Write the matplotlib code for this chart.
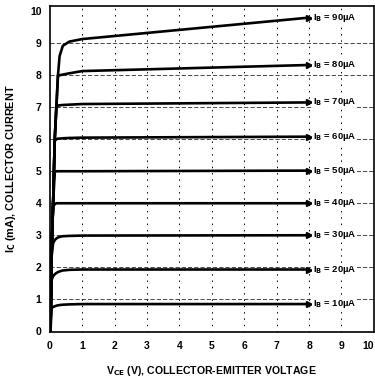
import matplotlib
matplotlib.use('Agg')
import matplotlib.pyplot as plt

plt.rcParams['font.family'] = ['Liberation Sans', 'DejaVu Sans']
plt.rcParams['font.weight'] = 'bold'

# Vce sample points (V) shared by all curves
vce = [0.02, 0.05, 0.1, 0.15, 0.2, 0.25, 0.3, 0.4, 0.6, 1.0, 8.0]

# base current (uA) and collector current (mA) per curve
ib_ua = [10, 20, 30, 40, 50, 60, 70, 80, 90]
ic_ma = [
    [0, 0.72, 0.76, 0.78, 0.80, 0.81, 0.82, 0.83, 0.84, 0.85, 0.85],
    [0, 1.60, 1.72, 1.78, 1.82, 1.85, 1.87, 1.90, 1.92, 1.93, 1.93],
    [0, 2.30, 2.75, 2.85, 2.90, 2.93, 2.95, 2.97, 2.98, 2.99, 3.00],
    [0, 2.40, 3.90, 3.97, 4.00, 4.00, 4.00, 4.00, 4.00, 4.00, 4.00],
    [0, 2.40, 4.00, 4.97, 5.00, 5.00, 5.00, 5.00, 5.00, 5.00, 5.02],
    [0, 2.40, 4.00, 5.95, 6.00, 6.02, 6.02, 6.03, 6.04, 6.05, 6.08],
    [0, 2.40, 4.00, 6.00, 7.00, 7.05, 7.06, 7.07, 7.08, 7.10, 7.15],
    [0, 2.40, 4.00, 6.00, 7.00, 8.00, 8.00, 8.02, 8.06, 8.13, 8.32],
    [0, 2.40, 4.00, 6.00, 7.00, 8.00, 8.60, 8.92, 9.05, 9.13, 9.80],
]

fig = plt.figure(figsize=(3.75, 3.81), dpi=100)
ax = fig.add_axes([0.133, 0.128, 0.864, 0.856])

for b, ic in zip(ib_ua, ic_ma):
    ax.plot(vce, ic, color='black', lw=1.9, solid_capstyle='butt', zorder=3)
    ax.plot(vce[-1], ic[-1], marker='>', ms=4, color='black', zorder=4)
    ax.text(8.12, ic[-1], 'I$_\\mathbf{B}$ = %dµA' % b, fontsize=6.8,
            fontweight='bold', va='center', ha='left', zorder=5,
            bbox=dict(boxstyle='square,pad=0.1', fc='white', ec='none'))

ax.set_xlim(0, 10)
ax.set_ylim(-0.03, 10.16)
ax.set_xticks(range(11))
ax.set_yticks(range(11))
ax.tick_params(length=0, pad=6, labelsize=7.5)
for t in ax.get_xticklabels() + ax.get_yticklabels():
    t.set_fontweight('bold')
ax.get_xticklabels()[-1].set_horizontalalignment('right')

# scanned-looking grid
for v in range(1, 10):
    ax.axvline(v, color='black', lw=0.7, ls=(0, (1.5, 5)), zorder=1)
for v in range(1, 10):
    ax.axhline(v, color='black', lw=0.5, ls=(0, (6, 3)), zorder=1)

for s in ax.spines.values():
    s.set_linewidth(1.2)

ax.set_xlabel('V$_\\mathbf{CE}$ (V), COLLECTOR-EMITTER VOLTAGE', fontsize=7.6,
              fontweight='bold', labelpad=10)
ax.set_ylabel('I$_\\mathbf{C}$ (mA), COLLECTOR CURRENT', fontsize=7.8,
              fontweight='bold', labelpad=9)

plt.savefig('out.png', dpi=100)
